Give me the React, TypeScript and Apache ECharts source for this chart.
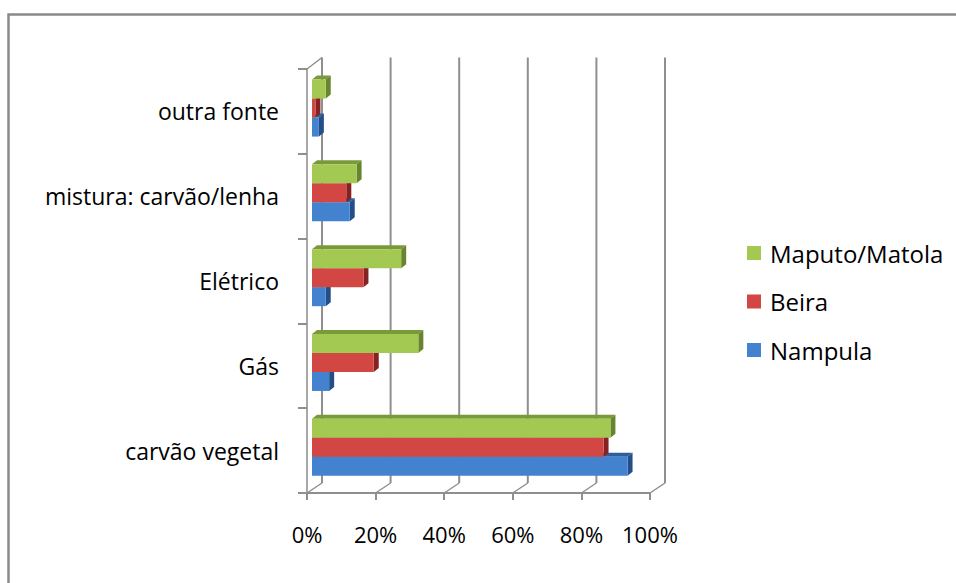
import React, { useEffect, useRef } from "react";
import * as echarts from "echarts";

// Household cooking energy source by city (share of households)
const categories = ["carvão vegetal", "Gás", "Elétrico", "mistura: carvão/lenha", "outra fonte"];
const nampula = [92, 5, 4, 11, 2];
const beira = [85, 18, 15, 10, 1];
const maputo = [87, 31, 26, 13, 4];
const xTicks = [0, 20, 40, 60, 80, 100];
const legendOrder = ["Maputo/Matola", "Beira", "Nampula"];

const FONT = "'Open Sans', 'Noto Sans', sans-serif";
const GRID_COLOR = "#8f8f8f";

// depth of the 3D walls and of the bars themselves
const WALL_DX = 15;
const WALL_DY = -10;
const BAR_DX = 5;
const BAR_DY = -4;

type Palette = { front: string; top: string; side: string };

const palettes: Record<string, Palette> = {
  Nampula: { front: "#4282CE", top: "#2E5E9C", side: "#244E88" },
  Beira: { front: "#D24744", top: "#A33030", side: "#862222" },
  "Maputo/Matola": { front: "#A3C953", top: "#7A9A3A", side: "#66852E" },
};

// slot 0 is the top bar of each cluster
function barRenderer(slot: number, pal: Palette) {
  return (_params: any, api: any) => {
    const v = api.value(0);
    const cat = api.value(1);
    const p0 = api.coord([0, cat]);
    const p1 = api.coord([v, cat]);
    const band = api.size([0, 1])[1];
    const h = band * 0.224;
    const cy = p0[1] + WALL_DY / 3;
    const top = cy - 1.5 * h + slot * h;
    const bot = top + h;
    const x0 = p0[0] + WALL_DX / 3;
    const x1 = p1[0] + WALL_DX / 3;
    return {
      type: "group",
      children: [
        {
          type: "polygon",
          shape: { points: [[x0, top], [x0 + BAR_DX, top + BAR_DY], [x1 + BAR_DX, top + BAR_DY], [x1, top]] },
          style: { fill: pal.top },
        },
        {
          type: "polygon",
          shape: { points: [[x1, top], [x1 + BAR_DX, top + BAR_DY], [x1 + BAR_DX, bot + BAR_DY], [x1, bot]] },
          style: { fill: pal.side },
        },
        {
          type: "rect",
          shape: { x: x0, y: top, width: x1 - x0, height: h },
          style: { fill: pal.front },
        },
      ],
    };
  };
}

// back wall gridlines, floor diagonals and the side-wall top edge
function wallRenderer(params: any, api: any) {
  const t = api.value(0);
  const p = api.coord([t, 0]);
  const cs = params.coordSys;
  const top = cs.y;
  const bottom = cs.y + cs.height;
  const x = p[0];
  const children: any[] = [
    {
      type: "line",
      shape: { x1: x + WALL_DX, y1: top - 11.5, x2: x + WALL_DX, y2: bottom + WALL_DY },
      style: { stroke: GRID_COLOR, lineWidth: 2 },
    },
    {
      type: "line",
      shape: { x1: x, y1: bottom, x2: x + WALL_DX, y2: bottom + WALL_DY },
      style: { stroke: GRID_COLOR, lineWidth: 1.5 },
    },
  ];
  if (t === 0) {
    children.push({
      type: "line",
      shape: { x1: x, y1: top, x2: x + WALL_DX, y2: top - 11.5 },
      style: { stroke: GRID_COLOR, lineWidth: 1.5 },
    });
  }
  return { type: "group", children };
}

const seriesDefs = [
  { name: "Nampula", values: nampula, slot: 2 },
  { name: "Beira", values: beira, slot: 1 },
  { name: "Maputo/Matola", values: maputo, slot: 0 },
];

export default function App() {
  const ref = useRef<HTMLDivElement>(null);

  useEffect(() => {
    if (!ref.current) return;
    const chart = echarts.init(ref.current, undefined, { renderer: "svg" });
    chart.setOption({
      animation: false,
      backgroundColor: "#ffffff",
      graphic: [
        {
          type: "polyline",
          shape: { points: [[8.5, 600], [8.5, 14.5], [980, 14.5]] },
          style: { stroke: "#8a8a8a", lineWidth: 2.5, fill: "none" },
          z: 0,
        },
      ],
      legend: {
        data: legendOrder,
        orient: "vertical",
        left: 742,
        top: 236,
        itemWidth: 14,
        itemHeight: 14,
        itemGap: 24.5,
        icon: "rect",
        textStyle: { fontSize: 24, fontFamily: FONT, color: "#000", padding: [0, 0, 0, 4] },
      },
      grid: { left: 307, top: 69, width: 343, height: 424 },
      xAxis: {
        type: "value",
        min: 0,
        max: 100,
        interval: 20,
        splitLine: { show: false },
        axisLine: { show: true, lineStyle: { color: GRID_COLOR, width: 2 } },
        axisTick: { show: true, length: 7, lineStyle: { color: GRID_COLOR, width: 2 } },
        axisLabel: {
          formatter: "{value}%",
          fontSize: 22,
          fontFamily: FONT,
          color: "#000",
          margin: 30,
        },
      },
      yAxis: {
        type: "category",
        data: categories,
        axisLine: { show: true, lineStyle: { color: "#a8a8a8", width: 2 } },
        axisTick: { show: true, length: 9, lineStyle: { color: GRID_COLOR, width: 2 } },
        axisLabel: { fontSize: 23, fontFamily: FONT, color: "#000", margin: 28 },
        splitLine: { show: false },
      },
      series: [
        {
          type: "custom",
          name: "wall",
          silent: true,
          z: 1,
          renderItem: wallRenderer,
          data: xTicks.map((t) => [t, 0]),
          encode: { x: 0, y: 1 },
        },
        ...seriesDefs.map((s) => ({
          type: "custom",
          name: s.name,
          z: 3,
          itemStyle: { color: palettes[s.name].front },
          renderItem: barRenderer(s.slot, palettes[s.name]),
          data: s.values.map((v, i) => [v, i]),
          encode: { x: 0, y: 1 },
        })),
      ],
    });
    return () => chart.dispose();
  }, []);

  return (
    <div
      ref={ref}
      style={{ position: "fixed", left: 0, top: 0, width: 956, height: 583, background: "#fff" }}
    />
  );
}
